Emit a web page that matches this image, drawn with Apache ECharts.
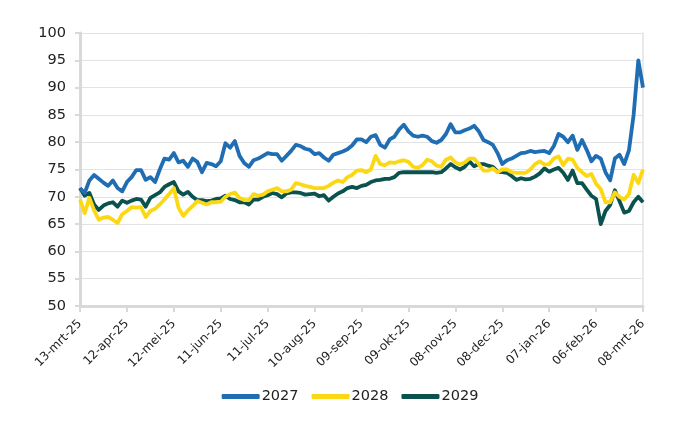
<!DOCTYPE html>
<html>
<head>
<meta charset="utf-8">
<script src="https://cdn.jsdelivr.net/npm/echarts@6/dist/echarts.min.js"></script>
<style>html,body{margin:0;padding:0;background:#fff}#c{width:700px;height:430px}</style>
</head>
<body>
<div id="c"></div>
<script>
// Time axis: one point every 3 days from 13-mrt-25 to 08-mrt-26
const startDate = [2025, 3, 13];
const stepDays = 3;
const monthNames = ['jan','feb','mrt','apr','mei','jun','jul','aug','sep','okt','nov','dec'];
const yTicks = [50, 55, 60, 65, 70, 75, 80, 85, 90, 95, 100];

const s2027 = [71.5,70.7,73,74,73.3,72.6,72,73,71.6,71,72.7,73.6,74.9,74.9,73.1,73.6,72.7,75,77,76.8,
78,76.3,76.6,75.5,77,76.4,74.5,76.2,76,75.6,76.5,79.8,79,80.2,77.5,76.2,75.5,76.7,77,77.5,
78,77.8,77.8,76.6,77.5,78.4,79.5,79.3,78.8,78.6,77.8,78,77.2,76.6,77.7,78,78.3,78.7,79.4,80.5,
80.5,80,81,81.3,79.5,79,80.5,81,82.3,83.2,82,81.2,81,81.2,81,80.2,79.9,80.4,81.5,83.3,
81.8,81.8,82.2,82.5,83,82,80.4,80,79.5,78,76,76.7,77,77.5,78,78.1,78.4,78.2,78.3,78.4,
78,79.3,81.5,81,80,81.2,78.6,80.4,78.6,76.5,77.5,77,74.5,73,77,77.7,76,78.5,85,95,90];

const s2028 = [69.5,67,69.8,67.5,65.8,66.2,66.3,65.8,65.2,66.8,67.4,68.1,68,68.1,66.3,67.4,67.8,68.6,69.5,70.5,
71.6,68,66.5,67.5,68.3,69.2,68.9,68.6,69,69,69.1,70,70.5,70.8,69.8,69.4,69.4,70.5,70.2,70.4,
71,71.3,71.6,71,71,71.3,72.5,72.3,72,71.8,71.6,71.6,71.6,72,72.6,73,72.7,73.6,74,74.8,
74.9,74.5,75,77.5,76,75.8,76.3,76.2,76.5,76.7,76.4,75.5,75.3,75.8,76.8,76.5,75.7,75.5,76.8,77.2,
76.3,75.9,76.3,77,77,76,74.8,74.8,75.2,74.5,75,75,74.5,74.4,74.4,74.4,75,76,76.5,75.9,
76,77,77.4,75.8,77,76.8,75.3,74.5,73.8,74.2,72.4,71.4,69,69,70.8,70,69.5,70.5,74,72.5,75];

const s2029 = [71.6,70.2,70.7,68.6,67.6,68.4,68.8,69,68.2,69.3,68.9,69.3,69.6,69.5,68.2,69.8,70.3,70.8,71.8,72.3,
72.7,71,70.4,70.9,70,69.4,69.4,69.2,69.3,69.6,69.7,70.2,69.6,69.4,69,69,68.6,69.5,69.5,70,
70.3,70.7,70.5,69.9,70.6,70.8,70.8,70.7,70.4,70.5,70.6,70.1,70.3,69.3,70,70.6,71,71.6,71.8,71.6,
72,72.2,72.7,73,73.1,73.3,73.3,73.6,74.4,74.5,74.5,74.5,74.5,74.5,74.5,74.5,74.4,74.5,75.2,76,
75.4,75,75.5,76.5,75.6,76,76,75.7,75.5,74.6,74.5,74.4,73.8,73.1,73.4,73.2,73.3,73.7,74.3,75.2,
74.6,75,75.3,74.4,73.1,74.8,72.5,72.5,71.3,70.2,69.6,65,67.4,68.5,71.2,69.2,67.1,67.4,69,70,69];

const seriesNames = ['2027', '2028', '2029'];
const seriesColors = ['#1f6db3', '#fcd814', '#0b524f'];

function fmtDate(d) {
  const dd = String(d.getUTCDate()).padStart(2, '0');
  const yy = String(d.getUTCFullYear()).slice(2);
  return dd + '-' + monthNames[d.getUTCMonth()] + '-' + yy;
}
const t0 = Date.UTC(startDate[0], startDate[1] - 1, startDate[2]);
const categories = s2027.map((_, i) => fmtDate(new Date(t0 + i * stepDays * 86400000)));

const chart = echarts.init(document.getElementById('c'), null, {renderer: 'canvas'});
const font = '"DejaVu Sans", Verdana, sans-serif';
chart.setOption({
  animation: false,
  backgroundColor: '#fff',
  grid: {left: 80, right: 57, top: 33, bottom: 124, containLabel: false},
  legend: {
    bottom: 21, left: 'center',
    data: seriesNames.map((n) => ({name: n, icon: 'roundRect'})),
    itemWidth: 38, itemHeight: 5, itemGap: 13,
    textStyle: {fontFamily: font, fontSize: 14.5, color: '#222', padding: [0, 0, 0, -3]}
  },
  xAxis: {
    type: 'category', data: categories, boundaryGap: false,
    axisLine: {lineStyle: {color: '#d9d9d9', width: 3}},
    axisTick: {show: true, interval: 9, length: 6, lineStyle: {color: '#d9d9d9', width: 2}},
    axisLabel: {interval: 9, rotate: 45, fontFamily: font, fontSize: 12, color: '#222', margin: 16},
    splitLine: {show: false}
  },
  yAxis: [{
    type: 'value', min: 50, max: 100, interval: 5,
    axisLine: {show: true, lineStyle: {color: '#d9d9d9', width: 3}},
    axisTick: {show: true, length: 5, lineStyle: {color: '#d9d9d9', width: 2}},
    axisLabel: {fontFamily: font, fontSize: 14.5, color: '#222', margin: 14,
      formatter: (v) => (yTicks.indexOf(v) >= 0 ? String(v) : '')},
    splitLine: {lineStyle: {color: '#e3e3e3', width: 1}}
  }, {
    type: 'value', min: 50, max: 100, interval: 5, position: 'right',
    axisLine: {show: true, lineStyle: {color: '#e3e3e3', width: 1.5}},
    axisTick: {show: false}, axisLabel: {show: false}, splitLine: {show: false}
  }],
  series: [s2027, s2028, s2029].map((d, k) => ({
    name: seriesNames[k], type: 'line', data: d, showSymbol: false, symbol: 'none',
    lineStyle: {width: 3.8, color: seriesColors[k], join: 'round'},
    itemStyle: {color: seriesColors[k]},
    z: 3 - k
  }))
});
</script>
</body>
</html>
